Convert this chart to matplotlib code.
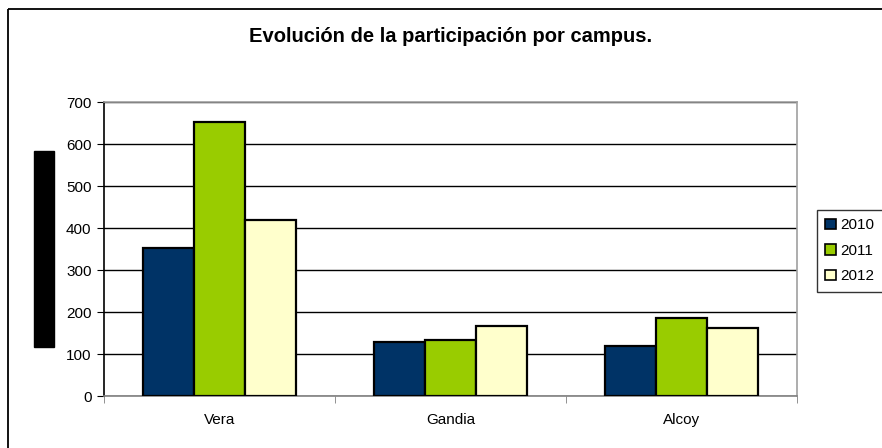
import matplotlib
matplotlib.use('Agg')
import matplotlib.pyplot as plt
import numpy as np
from matplotlib.patches import Rectangle

# data
campus = ['Vera', 'Gandia', 'Alcoy']
years = ['2010', '2011', '2012']
v2010 = [352, 128, 119]
v2011 = [653, 134, 186]
v2012 = [419, 167, 162]
colors = ['#003366', '#99CC00', '#FFFFCC']

plt.rcParams['font.family'] = ['Liberation Sans', 'DejaVu Sans']

W, H = 882, 448
fig = plt.figure(figsize=(W / 100, H / 100), dpi=100)

# outer chart frame (runs off the right and bottom edges)
fig.patches.append(Rectangle((8 / W, 1 - 9 / H), 2, -2, transform=fig.transFigure,
                             fill=False, edgecolor='black', linewidth=1.3))

ax = fig.add_axes([104 / W, 1 - 396 / H, (797 - 104) / W, (396 - 102) / H])

x = np.arange(len(campus))
width = 0.222
for i, (vals, yr) in enumerate(zip([v2010, v2011, v2012], years)):
    ax.bar(x + (i - 1) * width, vals, width, color=colors[i], edgecolor='black',
           linewidth=1.6, label=yr, zorder=3)

ax.set_xlim(-0.5, len(campus) - 0.5)
ax.set_ylim(0, 700)
ax.set_yticks(np.arange(0, 701, 100))
ax.yaxis.grid(True, color='black', linewidth=1.0, zorder=0)
ax.set_axisbelow(True)

ax.set_xticks(x)
ax.set_xticklabels(campus)
ax.set_xticks(np.arange(-0.5, len(campus), 1), minor=True)
ax.tick_params(axis='x', which='major', length=0, pad=12, labelsize=11)
ax.tick_params(axis='x', which='minor', length=5, color='#808080', direction='out')
ax.tick_params(axis='y', length=5, labelsize=11, pad=4)

ax.spines['left'].set_color('black')
ax.spines['bottom'].set_color('#808080')
ax.spines['top'].set_color('#a0a0a0')
ax.spines['right'].set_color('#a0a0a0')
for s in ax.spines.values():
    s.set_linewidth(1.2)

fig.text(451 / W, 1 - 37 / H, 'Evolución de la participación por campus.',
         ha='center', va='center', fontsize=14.5, fontweight='bold')

# redacted y-axis label box
fig.patches.append(Rectangle((34 / W, 1 - 347 / H), 20 / W, 196 / H,
                             transform=fig.transFigure, color='black'))

leg = fig.legend(loc='upper left', bbox_to_anchor=(817 / W, 1 - 210 / H),
                 frameon=True, fancybox=False, edgecolor='black', fontsize=11,
                 handlelength=0.7, handleheight=0.7, handletextpad=0.3,
                 labelspacing=0.75, borderpad=0.55, borderaxespad=0)
leg.get_frame().set_linewidth(1.0)
for h in leg.legend_handles:
    h.set_linewidth(1.2)

fig.savefig('out.png', dpi=100)
